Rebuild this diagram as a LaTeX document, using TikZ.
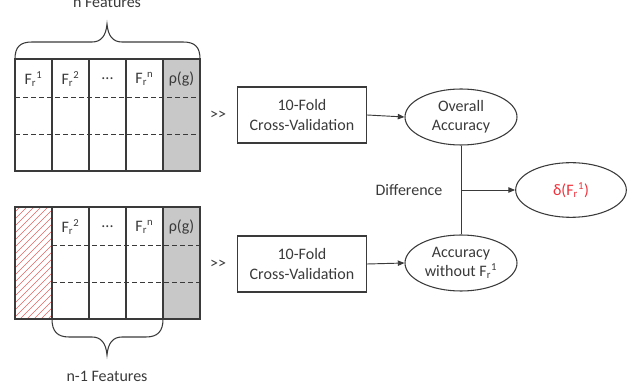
\documentclass[tikz,border=0pt]{standalone}
\usepackage{fontspec}
\setmainfont{Carlito}
\usetikzlibrary{arrows.meta,shapes.geometric}
\definecolor{ln}{HTML}{3A3A3A}
\definecolor{grayfill}{HTML}{C8C8C8}
\definecolor{redtxt}{HTML}{F0303A}
\definecolor{hatchred}{HTML}{E46464}
\begin{document}
\begin{tikzpicture}[x=0.75pt,y=-0.75pt,
  every node/.style={font=\fontsize{12pt}{14.5pt}\selectfont, text=ln},
  boxn/.style={draw=ln, line width=0.8pt, minimum width=97pt, minimum height=42pt, align=center, inner sep=0pt},
  ell/.style={draw=ln, line width=0.8pt, ellipse, minimum width=84pt, minimum height=42pt, align=center, inner sep=0pt},
  tline/.style={draw=ln, line width=0.8pt},
  dline/.style={draw=ln, line width=0.7pt, dash pattern=on 3.5pt off 2.5pt},
  conn/.style={draw=ln, line width=0.7pt, -{Triangle[length=5pt,width=4pt]}},
  cell/.style={inner sep=0pt}]
\useasboundingbox (0,0) rectangle (639,391);

% ---------- top table ----------
\fill[grayfill] (163,59) rectangle (200,171);
\draw[dline] (15,97) -- (200,97);
\draw[dline] (15,134) -- (200,134);
\foreach \x in {52,89,126,163} \draw[tline] (\x,59) -- (\x,171);
\draw[tline] (15,59) rectangle (200,171);
\node[cell] (t1) at (33.5,79) {F\textsubscript{r}\textsuperscript{1}};
\node[cell] (t2) at (70.5,79) {F\textsubscript{r}\textsuperscript{2}};
\node[cell] (t3) at (107.5,79) {...};
\node[cell] (t4) at (144.5,79) {F\textsubscript{r}\textsuperscript{n}};
\node[cell] (t5) at (181.5,79) {ρ(g)};
% top brace
\draw[tline] (15,59) .. controls (15,47) and (20,42) .. (32,42) -- (92,42)
  .. controls (101,42) and (106,36) .. (107,24)
  .. controls (108,36) and (113,42) .. (122,42) -- (183,42)
  .. controls (195,42) and (200,47) .. (200,59);
\node (nf) at (107,2) {n Features};

% ---------- bottom table ----------
\fill[grayfill] (163,207) rectangle (200,319);
\begin{scope}
  \clip (15,207) rectangle (52,319);
  \foreach \k in {-40,-33,...,160}
    \draw[hatchred, line width=0.45pt] (15,319-\k) -- (60,274-\k);
\end{scope}
\draw[dline] (52,245) -- (200,245);
\draw[dline] (52,282) -- (200,282);
\foreach \x in {52,89,126,163} \draw[tline] (\x,207) -- (\x,319);
\draw[tline] (15,207) rectangle (200,319);
\node[cell] (b2) at (70.5,227) {F\textsubscript{r}\textsuperscript{2}};
\node[cell] (b3) at (107.5,227) {...};
\node[cell] (b4) at (144.5,227) {F\textsubscript{r}\textsuperscript{n}};
\node[cell] (b5) at (181.5,227) {ρ(g)};
% bottom brace
\draw[tline] (52,319) .. controls (52,331) and (57,337) .. (69,337) -- (92,337)
  .. controls (101,337) and (106,343) .. (107,355)
  .. controls (108,343) and (113,337) .. (122,337) -- (146,337)
  .. controls (158,337) and (163,331) .. (163,319);
\node (nf1) at (107,376) {n-1 Features};

% ---------- right part ----------
\node (g1) at (218,115) {>{}>};
\node (g2) at (218,264) {>{}>};
\node[boxn] (cv1) at (302,115) {10-Fold\\Cross-Validation};
\node[boxn] (cv2) at (302,264) {10-Fold\\Cross-Validation};
\node[ell] (oa) at (461,117) {Overall\\Accuracy};
\node[ell] (aw) at (461,263) {Accuracy\\without F\textsubscript{r}\textsuperscript{1}};
\node[ell, minimum width=83pt, minimum height=41pt] (dl) at (571,190) {\textcolor{redtxt}{δ(F\textsubscript{r}\textsuperscript{1})}};
\node (diff) at (409,190) {Difference};
\coordinate (mid) at (oa.south |- dl.west);

\draw[conn] (cv1.east) -- (oa.west);
\draw[conn] (cv2.east) -- (aw.west);
\draw[tline, line width=0.7pt] (oa.south) -- (aw.north);
\draw[conn] (mid) -- (dl.west);
\end{tikzpicture}
\end{document}
